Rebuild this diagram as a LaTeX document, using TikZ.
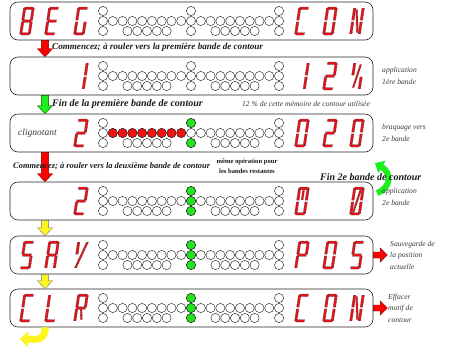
\documentclass[tikz,border=0pt]{standalone}
\usepackage{fontspec}
\setmainfont{Liberation Serif}
\usetikzlibrary{arrows.meta,positioning,calc}
\definecolor{SegRed}{HTML}{E3141B}
\definecolor{LedRed}{HTML}{F21212}
\definecolor{LedGreen}{HTML}{22E41E}
\definecolor{ArrGreen}{HTML}{1EEE1E}
\definecolor{ArrYellow}{HTML}{FFF51E}
\definecolor{NoteGray}{HTML}{3A3A3A}

% segments of one slanted digit (local units, y down)
\newcommand\sega{\draw[seg] (-4.4,-14)--(4.4,-14)--(4.4,-11.5)--(-4.4,-11.5)--cycle;}
\newcommand\segb{\draw[seg] (3,-12.8)--(5.5,-12.8)--(5.5,-.9)--(3,-.9)--cycle;}
\newcommand\segc{\draw[seg] (3,.9)--(5.5,.9)--(5.5,12.8)--(3,12.8)--cycle;}
\newcommand\segd{\draw[seg] (-4.4,11.5)--(4.4,11.5)--(4.4,14)--(-4.4,14)--cycle;}
\newcommand\sege{\draw[seg] (-5.5,.9)--(-3,.9)--(-3,12.8)--(-5.5,12.8)--cycle;}
\newcommand\segf{\draw[seg] (-5.5,-12.8)--(-3,-12.8)--(-3,-.9)--(-5.5,-.9)--cycle;}
\newcommand\segg{\draw[seg] (-4.4,-1.25)--(4.4,-1.25)--(4.4,1.25)--(-4.4,1.25)--cycle;}
\newcommand\segn{\draw[seg] (-3,-11.5)--(-1.2,-11.5)--(3,11.5)--(1.2,11.5)--cycle;}
\newcommand\segs{\draw[seg] (-3,11.5)--(-1.2,11.5)--(3,-11.5)--(1.2,-11.5)--cycle;}
\newcommand\segr{\draw[seg] (-.6,1.25)--(1.2,1.25)--(3,11.5)--(1.2,11.5)--cycle;}
\newcommand\segi{\draw[seg] (-1,-11.5)--(1,-11.5)--(1,-1.25)--(-1,-1.25)--cycle;}
\newcommand\segv{\draw[seg] (-4.6,12.8)--(-2.6,12.8)--(5.5,-12.8)--(3.5,-12.8)--cycle;}
\newcommand\segdig[3]{%
  \begin{scope}[shift={(#1,#2)},xslant=.15]
    \foreach \sg in {#3}{\csname seg\sg\endcsname}
  \end{scope}}

% one row of lamps under a display line
\newcommand\ledrow[3]{% y, red lamps, green column
  \foreach \i in {0,...,18}{\draw[led] (103+9.78*\i,#1) circle (4.6);}
  \foreach \i in {0,9,18,2.5,3.5,4.5,5.5,6.5,11.5,12.5,13.5,14.5,15.5}{\draw[led] (103+9.78*\i,#1+10) circle (4.6);}
  \foreach \i in {0,9,18}{\draw[led] (103+9.78*\i,#1-10) circle (4.6);}
  \foreach \i in {#2}{\draw[led,fill=LedRed] (103+9.78*\i,#1) circle (4.6);}
  \ifx#3g\foreach \j in {-10,0,10}{\draw[led,fill=LedGreen] (103+9.78*9,#1+\j) circle (4.6);}\fi
  \ifx#3h\foreach \j in {-10,10}{\draw[led,fill=LedGreen] (103+9.78*9,#1+\j) circle (4.6);}\fi}

% block arrows between two points
\newcommand\dnarrow[3]{\draw[#1] let \p1=#2, \p2=#3 in
  (\x1-3.6pt,\y1) -- (\x1+3.6pt,\y1) -- (\x1+3.6pt,\y2+8pt) -- (\x1+7.6pt,\y2+8pt)
  -- (\x1,\y2) -- (\x1-7.6pt,\y2+8pt) -- (\x1-3.6pt,\y2+8pt) -- cycle;}
\newcommand\rtarrow[2]{\draw[#1] let \p1=#2 in
  (\x1,\y1-3pt) -- (\x1+7pt,\y1-3pt) -- (\x1+7pt,\y1-7pt) -- (\x1+14pt,\y1)
  -- (\x1+7pt,\y1+7pt) -- (\x1+7pt,\y1+3pt) -- (\x1,\y1+3pt) -- cycle;}

\begin{document}
\begin{tikzpicture}[x=1pt,y=-1pt,
 panel/.style={draw=black!85,line width=.6pt,rounded corners=8pt,minimum width=363pt,minimum height=38pt,inner sep=0pt},
 seg/.style={fill=SegRed,draw=black!80,line width=.3pt,dash pattern=on .9pt off .7pt},
 led/.style={draw=black!85,line width=.45pt,fill=white},
 redarr/.style={fill=red,draw=red!45!black,line width=.4pt},
 grnarr/.style={fill=ArrGreen,draw=green!35!black,line width=.4pt},
 ylwarr/.style={fill=ArrYellow,draw=black!55,line width=.4pt},
 capb/.style={font=\fontsize{9.1}{10}\selectfont\bfseries\itshape,text=black!90,inner sep=0pt},
 note/.style={font=\fontsize{7.6}{11.5}\selectfont\itshape,text=NoteGray,align=left,inner sep=0pt}]
\useasboundingbox (0,0) rectangle (452,349);

% display lines
\node[panel] (p1) at (191.5,21) {};
\node[panel] (p2) at (191.5,76) {};
\node[panel] (p3) at (191.5,133) {};
\node[panel] (p4) at (191.5,201) {};
\node[panel] (p5) at (191.5,255) {};
\node[panel] (p6) at (191.5,308) {};

% lamps
\ledrow{21}{}{n}
\ledrow{76}{}{n}
\ledrow{133}{1,...,8}{h}
\ledrow{201}{}{g}
\ledrow{255}{}{g}
\ledrow{308}{}{g}

% digits
\segdig{27}{21}{a,b,c,d,e,f,g}\segdig{52}{21}{a,f,g,e,d}\segdig{81}{21}{a,f,e,d,c}
\segdig{302}{21}{a,f,e,d}\segdig{330}{21}{a,b,c,d,e,f}\segdig{357}{21}{f,e,b,c,n}
\segdig{81}{76}{b,c}
\segdig{302}{76}{b,c}\segdig{330}{76}{a,b,g,e,d}\segdig{357}{76}{f,c,s}
\segdig{81}{133}{a,b,g,e,d}
\segdig{302}{133}{a,b,c,d,e,f}\segdig{330}{133}{a,b,g,e,d}\segdig{357}{133}{a,b,c,d,e,f}
\segdig{81}{201}{a,b,g,e,d}
\segdig{302}{201}{a,b,c,d,e,f,i}\segdig{357}{201}{a,b,c,d,e,f,s}
\segdig{27}{255}{a,f,g,c,d}\segdig{52}{255}{a,b,c,e,f,g}\segdig{81}{255}{f,v}
\segdig{302}{255}{a,b,f,g,e}\segdig{330}{255}{a,b,c,d,e,f}\segdig{357}{255}{a,f,g,c,d}
\segdig{27}{308}{a,f,e,d}\segdig{52}{308}{f,e,d}\segdig{81}{308}{a,b,f,g,e,r}
\segdig{302}{308}{a,f,e,d}\segdig{330}{308}{a,b,c,d,e,f}\segdig{357}{308}{f,e,b,c,n}

% arrows down the left side
\coordinate (ax) at (45,0);
\dnarrow{redarr}{(p1.south -| ax)}{(p2.north -| ax)}
\dnarrow{grnarr}{(p2.south -| ax)}{(p3.north -| ax)}
\dnarrow{redarr}{(p3.south -| ax)}{(p4.north -| ax)}
\dnarrow{ylwarr}{(p4.south -| ax)}{(p5.north -| ax)}
\dnarrow{ylwarr}{(p5.south -| ax)}{(p6.north -| ax)}
\coordinate (back) at (20,339);
\draw[ArrYellow,line width=7pt,-{Triangle[width=15pt,length=8pt]}]
  (p6.south -| ax) -- ++(0,3) to[out=-90,in=0] ++(-9,9) -- (back);

% back to the second line
\coordinate (g1) at (377,193);
\coordinate (g2) at (375,163);
\draw[ArrGreen,line width=6pt,-{Triangle[width=14pt,length=8pt]}]
  (g1) .. controls (391,188) and (392,173) .. (g2);

% arrows to the right
\rtarrow{redarr}{(p5.east)}
\rtarrow{redarr}{(p6.east)}

% captions
\node[capb,anchor=west] (c1) at (52,47) {Commencez; à rouler vers la première bande de contour};
\node[capb,anchor=west,font=\fontsize{10}{11}\selectfont\bfseries\itshape] (c2) at (52,104) {Fin de la première bande de contour};
\node[note,anchor=center] (c2r) at (306,104) {12 \% de cette mémoire de contour utilisée};
\node[capb,anchor=west,font=\fontsize{8.4}{9}\selectfont\bfseries\itshape] (c3) at (13,166) {Commencez; à rouler vers la deuxième bande de contour};
\node[capb,align=center,font=\fontsize{6.6}{10.5}\selectfont\bfseries] (c3m) at (247,166) {même opération pour\\les bandes restantes};
\node[capb,anchor=west,font=\fontsize{10}{11}\selectfont\bfseries\itshape] (c3r) at (320,177) {Fin 2e bande de contour};

% notes beside the lines
\node[note,anchor=west,font=\fontsize{9.5}{11}\selectfont\itshape] (n3) at (18,133) {clignotant};
\node[note,anchor=west] (n2) at (382,76) {application\\1ère bande};
\node[note,anchor=west] (n3r) at (382,133) {braquage vers\\2e bande};
\node[note,anchor=west] (n4) at (382,197) {application\\2e bande};
\node[note,anchor=west] (n5) at (390,255) {Sauvegarde de\\la position\\actuelle};
\node[note,anchor=west] (n6) at (388,308) {Effacer\\motif de\\contour};
\end{tikzpicture}
\end{document}
